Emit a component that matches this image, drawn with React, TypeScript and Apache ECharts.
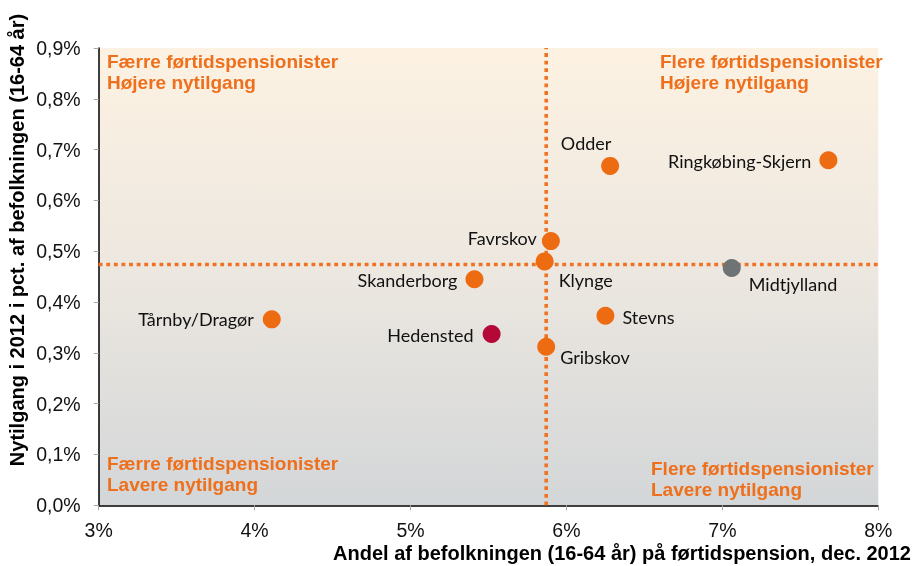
import React, { useEffect, useRef } from "react";
import * as echarts from "echarts";

// ---- data ----
const names = [
  "Tårnby/Dragør",
  "Skanderborg",
  "Hedensted",
  "Favrskov",
  "Klynge",
  "Gribskov",
  "Stevns",
  "Odder",
  "Midtjylland",
  "Ringkøbing-Skjern",
];
const shareOnPension = [4.11, 5.41, 5.52, 5.9, 5.86, 5.87, 6.25, 6.28, 7.06, 7.68];
const newEntrants = [0.366, 0.445, 0.337, 0.52, 0.48, 0.312, 0.373, 0.668, 0.467, 0.679];
const refShare = 5.87;
const refEntrants = 0.474;
const xTicks = [3, 4, 5, 6, 7, 8];
const yTicks = [0, 0.1, 0.2, 0.3, 0.4, 0.5, 0.6, 0.7, 0.8, 0.9];
const quadrantTexts = [
  "Færre førtidspensionister\nHøjere nytilgang",
  "Flere førtidspensionister\nHøjere nytilgang",
  "Færre førtidspensionister\nLavere nytilgang",
  "Flere førtidspensionister\nLavere nytilgang",
];
const xTitle = "Andel af befolkningen (16-64 år) på førtidspension, dec. 2012";
const yTitle = "Nytilgang i 2012 i pct. af befolkningen (16-64 år)";

// ---- styles ----
const ORANGE = "#ed6b11";
const pointColor: Record<string, string> = {
  Hedensted: "#b30838",
  Midtjylland: "#6e7376",
};
type LP = { align: string; offset: [number, number] };
const labelPlace: Record<string, LP> = {
  "Tårnby/Dragør": { align: "right", offset: [-18, 0] },
  Skanderborg: { align: "right", offset: [-17, 1] },
  Hedensted: { align: "right", offset: [-18, 1] },
  Favrskov: { align: "right", offset: [-14, -3] },
  "Ringkøbing-Skjern": { align: "right", offset: [-17, 1] },
  Odder: { align: "center", offset: [-24, -23] },
  Klynge: { align: "left", offset: [14, 19] },
  Stevns: { align: "left", offset: [17, 1] },
  Gribskov: { align: "left", offset: [14, 10] },
  Midtjylland: { align: "left", offset: [17, 16] },
};
const QCOLOR = "#ee6f1c";
const AX_FONT = "Liberation Sans, Arial, sans-serif";
const LABEL_FONT = "Lato, Carlito, Calibri, sans-serif";

export default function App() {
  const ref = useRef<HTMLDivElement>(null);
  useEffect(() => {
    if (!ref.current) return;
    const chart = echarts.init(ref.current, undefined, { renderer: "svg" });
    const xMin = xTicks[0];
    const xMax = xTicks[xTicks.length - 1];
    const yMin = yTicks[0];
    const yMax = yTicks[yTicks.length - 1];

    const scatterData = names.map((n, i) => ({
      name: n,
      value: [shareOnPension[i], newEntrants[i]],
      itemStyle: { color: pointColor[n] || ORANGE, opacity: 1 },
      label: {
        show: true,
        position: "inside",
        formatter: n,
        align: labelPlace[n].align,
        verticalAlign: "middle",
        offset: labelPlace[n].offset,
        color: "#111111",
        fontSize: 18,
        fontFamily: LABEL_FONT,
      },
    }));

    const dotted = {
      color: "#ef7322",
      width: 3.6,
      type: [3.8, 3.8],
      cap: "butt",
    };

    const qFont = { fontSize: 19, fontWeight: "bold", fontFamily: AX_FONT };
    const qText = (text: string, x: number, y: number) => ({
      type: "text",
      x,
      y,
      z: 5,
      style: {
        text,
        fill: QCOLOR,
        font: `bold 19px ${AX_FONT}`,
        lineHeight: 21,
        align: "left",
        verticalAlign: "top",
        ...qFont,
      },
    });

    chart.setOption({
      animation: false,
      grid: {
        left: 98.7,
        right: 36.7,
        top: 48,
        bottom: 60.7,
        show: true,
        borderWidth: 0,
        backgroundColor: new echarts.graphic.LinearGradient(0, 0, 0, 1, [
          { offset: 0, color: "#fdf2e2" },
          { offset: 0.5, color: "#ece7e0" },
          { offset: 1, color: "#d3d6d8" },
        ]),
      },
      xAxis: {
        type: "value",
        min: xMin,
        max: xMax,
        interval: 1,
        axisLine: { show: true, onZero: false, lineStyle: { color: "#000", width: 1.5 } },
        axisTick: { show: true, length: 5, lineStyle: { color: "#a8a8a8" } },
        splitLine: { show: false },
        axisLabel: {
          margin: 15,
          color: "#111111",
          fontSize: 19.5,
          fontFamily: AX_FONT,
          formatter: (v: number) => `${v}%`,
        },
      },
      yAxis: {
        type: "value",
        min: yMin,
        max: yMax,
        interval: 0.1,
        axisLine: { show: true, onZero: false, lineStyle: { color: "#000", width: 1.5 } },
        axisTick: { show: true, length: 5, lineStyle: { color: "#a8a8a8" } },
        splitLine: { show: false },
        axisLabel: {
          margin: 18,
          color: "#111111",
          fontSize: 19.5,
          fontFamily: AX_FONT,
          formatter: (v: number) => `${v.toFixed(1).replace(".", ",")}%`,
        },
      },
      graphic: [
        qText(quadrantTexts[0], 107, 51),
        qText(quadrantTexts[1], 660, 51),
        qText(quadrantTexts[2], 107, 453),
        qText(quadrantTexts[3], 651, 458),
        {
          type: "text",
          x: 911,
          y: 553,
          style: {
            text: xTitle,
            fill: "#000",
            font: `bold 20px ${AX_FONT}`,
            fontSize: 20,
            fontWeight: "bold",
            fontFamily: AX_FONT,
            align: "right",
            verticalAlign: "middle",
          },
        },
        {
          type: "text",
          x: 17,
          y: 240,
          rotation: Math.PI / 2,
          style: {
            text: yTitle,
            fill: "#000",
            font: `bold 20px ${AX_FONT}`,
            fontSize: 20,
            fontWeight: "bold",
            fontFamily: AX_FONT,
            align: "center",
            verticalAlign: "middle",
          },
        },
      ],
      series: [
        {
          type: "line",
          silent: true,
          symbol: "none",
          z: 1,
          lineStyle: dotted,
          data: [
            [refShare, yMin],
            [refShare, yMax],
          ],
        },
        {
          type: "line",
          silent: true,
          symbol: "none",
          z: 1,
          lineStyle: dotted,
          data: [
            [xMin, refEntrants],
            [xMax, refEntrants],
          ],
        },
        {
          type: "scatter",
          symbolSize: 18,
          z: 3,
          itemStyle: { opacity: 1 },
          data: scatterData,
        },
      ],
    });
    return () => chart.dispose();
  }, []);
  return (
    <div
      ref={ref}
      style={{ position: "fixed", left: 0, top: 0, width: 915, height: 566 }}
    />
  );
}
